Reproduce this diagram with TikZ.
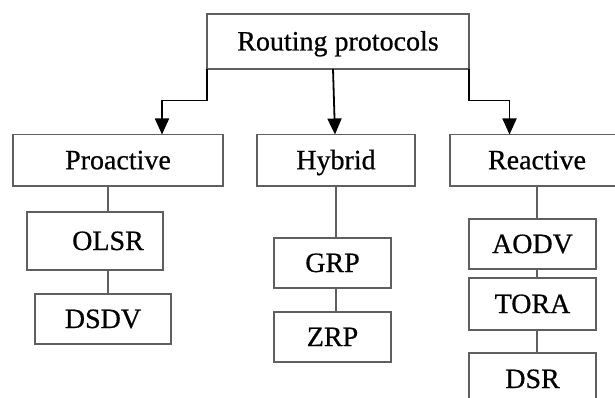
\documentclass[tikz,border=0pt]{standalone}
\usepackage{fontspec}
\setmainfont{Liberation Serif}[FakeBold=0.6]
\usetikzlibrary{arrows.meta}
\definecolor{boxgray}{RGB}{95,95,95}
\begin{document}
\begin{tikzpicture}[x=1pt,y=-1pt,
  box/.style={draw=boxgray,line width=1.3pt,inner sep=0pt,outer sep=0pt,
    font=\fontsize{28}{30}\selectfont,text height=19pt,text depth=1pt,anchor=center},
  link/.style={draw=boxgray,line width=1.3pt},
  arr/.style={draw=black,line width=1.8pt,-{Triangle[length=16pt,width=14pt]}}]
\useasboundingbox (0,0) rectangle (615,398);
\node[box,minimum width=262pt,minimum height=55pt] (root) at (338,41.5) {Routing protocols};
\node[box,minimum width=210pt,minimum height=51.5pt] (pro) at (118,160.25) {Proactive};
\node[box,minimum width=158pt,minimum height=51.5pt] (hyb) at (336,160.25) {Hybrid};
\node[box,minimum width=174pt,minimum height=51.5pt] (rea) at (537,160.25) {Reactive};
\node[box,minimum width=136pt,minimum height=58pt] (olsr) at (95,241) {\hspace*{26pt}OLSR};
\node[box,minimum width=136pt,minimum height=50pt] (dsdv) at (103,319) {DSDV};
\node[box,minimum width=117pt,minimum height=50pt] (grp) at (332.5,263) {GRP};
\node[box,minimum width=117pt,minimum height=50pt] (zrp) at (332.5,337) {ZRP};
\node[box,minimum width=127pt,minimum height=50pt] (aodv) at (532.5,244) {AODV};
\node[box,minimum width=127pt,minimum height=52pt] (tora) at (532.5,304) {TORA};
\node[box,minimum width=127pt,minimum height=52pt] (dsr) at (532.5,379) {DSR};
% links
\draw[link] ([xshift=13pt]olsr.north |- pro.south) -- ([xshift=13pt]olsr.north);
\draw[link] ([xshift=13pt]olsr.south) -- ([xshift=13pt]olsr.south |- dsdv.north);
\draw[link] (hyb.south) -- (hyb.south |- grp.north);
\draw[link] (hyb.south |- grp.south) -- (hyb.south |- zrp.north);
\draw[link] (rea.south) -- (rea.south |- aodv.north);
\draw[link] (rea.south |- aodv.south) -- (rea.south |- tora.north);
\draw[link] (rea.south |- tora.south) -- (rea.south |- dsr.north);
% arrows
\draw[arr] (root.south west) -- ++(0,31.5) -| ([xshift=44pt]pro.north);
\draw[arr] ([xshift=-5pt]root.south) -- ([xshift=-1pt]hyb.north);
\draw[arr] (root.south east) -- ++(0,31.5) -| ([xshift=-27.5pt]rea.north);
\end{tikzpicture}
\end{document}
